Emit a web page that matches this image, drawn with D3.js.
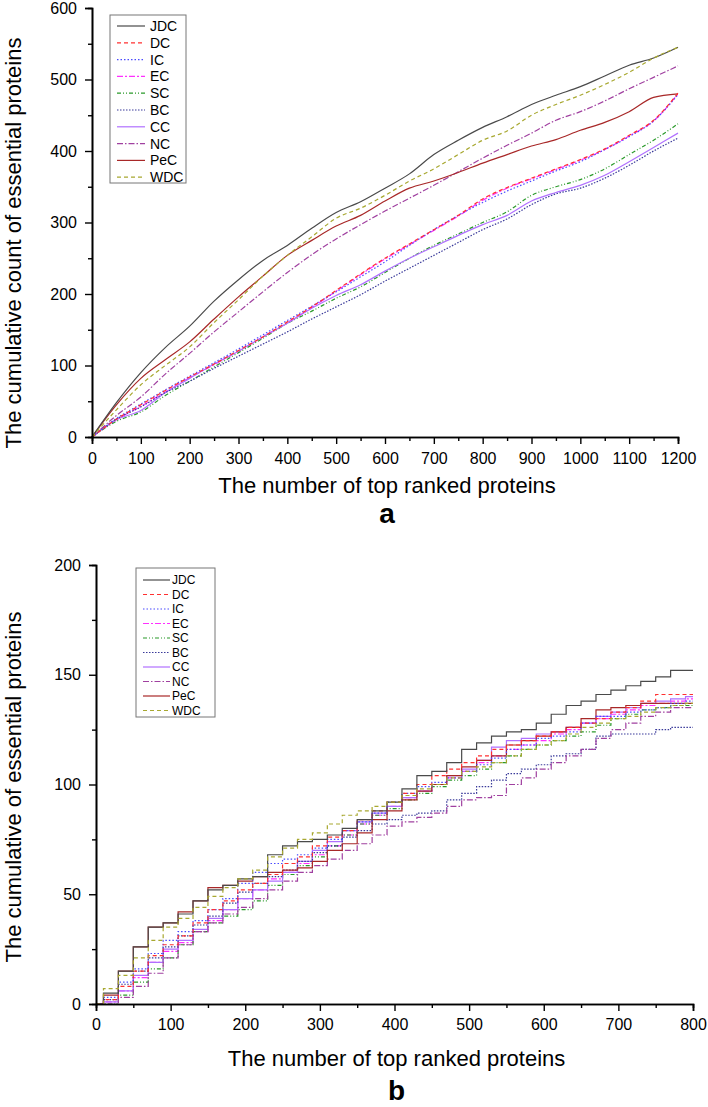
<!DOCTYPE html>
<html><head><meta charset="utf-8">
<script src="https://cdn.jsdelivr.net/npm/d3@7"></script>
<style>
html,body{margin:0;padding:0;background:#fff;}
svg{display:block;font-family:"Liberation Sans",Arial,sans-serif;}
</style></head><body>
<svg id="chart" width="708" height="1107"></svg>
<script>
// ---------- Chart a data ----------
const seriesNames = ["JDC","DC","IC","EC","SC","BC","CC","NC","PeC","WDC"];
const xA = [0,50,100,150,200,250,300,350,400,450,500,550,600,650,700,750,800,850,900,950,1000,1050,1100,1150,1200];
const aJDC = [0,48,90,125,155,190,220,247,268,292,314,329,348,368,395,415,433,448,465,478,490,505,520,530,545];
const aDC  = [0,25,45,65,84,102,121,140,161,182,205,228,250,270,290,310,333,349,362,375,388,403,422,443,481];
const aIC  = [0,26,46,66,85,104,123,143,163,183,203,224,245,268,290,310,328,344,358,372,385,402,420,442,479];
const aEC  = [0,24,43,63,83,101,120,140,160,181,204,227,249,269,289,309,331,348,361,374,387,402,421,442,480];
const aSC  = [0,22,35,58,78,98,118,138,159,176,194,210,230,250,268,284,300,315,338,350,360,375,395,415,438];
const aBC  = [0,25,42,62,78,96,113,130,147,165,182,199,218,236,254,272,290,305,325,340,348,362,380,400,418];
const aCC  = [0,24,37,62,82,102,120,140,159,180,198,213,232,250,266,282,297,310,330,342,352,366,385,405,425];
const aNC  = [0,30,56,88,117,147,175,203,230,255,277,297,316,334,352,371,390,408,425,443,455,470,487,503,519];
const aPeC = [0,45,82,108,133,165,196,225,254,275,295,310,330,348,358,370,383,395,407,416,429,440,455,475,480];
const aWDC = [0,38,73,100,126,160,192,225,254,280,306,320,338,358,375,395,415,428,450,465,478,493,510,530,545];
const yTicksA = [0,100,200,300,400,500,600];
const xTicksA = [0,100,200,300,400,500,600,700,800,900,1000,1100,1200];

// ---------- Chart b data ----------
const xB = [0,20,40,60,80,100,120,140,160,180,200,220,240,260,280,300,320,340,360,380,400,420,440,460,480,500,520,540,560,580,600,620,640,660,680,700,720,740,760,780,800];
const bJDC = [0,5,15,26,35,37,41,47,52,54,57,58,68,72,74,75,77,80,84,88,92,98,104,106,110,116,119,122,124,125,128,132,136,138,141,143,145,147,149,152,152];
const bDC  = [0,2,8,15,22,27,31,37,43,47,52,55,59,64,67,72,76,79,84,88,92,96,100,104,107,110,113,116,118,120,122,124,126,128,130,133,135,138,141,141,141];
const bIC  = [0,3,10,16,23,29,33,38,43,48,55,60,64,66,68,71,75,79,83,87,92,96,99,101,103,106,109,112,116,118,121,122,124,128,131,131,133,134,135,137,138];
const bEC  = [0,1,6,12,19,24,28,33,38,43,48,52,57,60,64,68,72,77,82,86,90,94,97,100,103,106,110,113,116,118,120,123,125,128,130,132,134,136,137,138,139];
const bSC  = [0,0,4,10,16,21,27,33,37,40,43,47,54,59,63,67,72,77,82,86,89,93,96,99,102,104,107,110,113,116,118,120,122,124,127,130,132,134,135,136,136];
const bBC  = [0,2,9,15,21,26,31,36,40,46,51,55,58,61,65,69,72,76,79,82,84,86,87,88,93,96,99,102,105,107,109,113,114,116,122,123,123,123,125,126,126];
const bCC  = [0,1,6,13,19,25,29,34,39,43,48,52,56,60,65,70,74,79,83,87,90,94,97,100,104,107,111,117,120,121,123,124,126,128,131,133,135,137,138,139,140];
const bNC  = [0,0,3,8,14,21,27,33,37,41,44,48,52,56,60,63,66,70,73,77,81,83,85,87,90,93,94,95,100,103,107,110,113,116,121,125,128,131,133,135,135];
const bPeC = [0,4,15,26,35,37,42,47,53,54,56,58,60,61,62,65,70,73,78,84,88,93,97,100,104,108,111,113,118,120,122,124,126,130,134,135,136,137,137,137,137];
const bWDC = [0,7,13,21,29,35,39,44,49,53,57,61,67,71,75,78,82,86,88,90,92,95,98,100,103,106,108,110,113,116,118,120,123,126,128,130,131,133,135,136,137];
const yTicksB = [0,50,100,150,200];
const xTicksB = [0,100,200,300,400,500,600,700,800];

// ---------- styles ----------
const colors = {JDC:"#4a4a4a",DC:"#ff3030",IC:"#4a4aff",EC:"#ff30ff",SC:"#2a9a2a",BC:"#3a3a9a",CC:"#b070ff",NC:"#a040a0",PeC:"#a82828",WDC:"#a8a830"};
const dashes = {JDC:null,DC:"4,3",IC:"1.5,2",EC:"6,2,2,2",SC:"4,2,1,2,1,2",BC:"1.5,1.5",CC:null,NC:"6,2,1.5,2",PeC:null,WDC:"4,3"};
const drawOrder = ["EC","SC","CC","BC","NC","PeC","IC","DC","JDC","WDC"];

const svg = d3.select("#chart");

function drawChart(cfg){
  const g = svg.append("g");
  const x = d3.scaleLinear().domain(cfg.xDomain).range([cfg.left, cfg.right]);
  const y = d3.scaleLinear().domain(cfg.yDomain).range([cfg.bottom, cfg.top]);
  const line = d3.line().x((d,i)=>x(cfg.xs[i])).y(d=>y(d)).curve(cfg.curve);
  drawOrder.forEach(n=>{
    g.append("path").datum(cfg.data[n])
      .attr("d", line).attr("fill","none")
      .attr("stroke", colors[n]).attr("stroke-width", 1.2)
      .attr("stroke-dasharray", dashes[n]);
  });
  // axes
  const xAxis = d3.axisBottom(x).tickValues(cfg.xTicks).tickSize(7).tickPadding(cfg.xPad).tickFormat(d3.format("d"));
  const xMinor = d3.axisBottom(x).tickValues(cfg.xMinor).tickSize(4).tickFormat("");
  const yAxis = d3.axisLeft(y).tickValues(cfg.yTicks).tickSize(7).tickPadding(8).tickFormat(d3.format("d"));
  const yMinor = d3.axisLeft(y).tickValues(cfg.yMinor).tickSize(4).tickFormat("");
  [ [xMinor,"x"],[xAxis,"x"],[yMinor,"y"],[yAxis,"y"] ].forEach(([ax,t])=>{
    const a = g.append("g").attr("transform", t==="x" ? `translate(0,${cfg.bottom})` : `translate(${cfg.left},0)`).call(ax);
    a.select(".domain").attr("stroke","#000").attr("stroke-width",1.6);
    a.selectAll(".tick line").attr("stroke","#000").attr("stroke-width",1.4);
    a.selectAll("text").attr("font-size", cfg.tickFont).attr("fill","#000")
      .attr("font-family","'Liberation Sans',Arial,sans-serif");
  });
  // titles
  g.append("text").attr("x", (cfg.left+cfg.right)/2 + 2).attr("y", cfg.xTitleY)
    .attr("text-anchor","middle").attr("font-size", 22).text("The number of top ranked proteins");
  g.append("text").attr("transform", `translate(21,${cfg.yTitleCY}) rotate(-90)`)
    .attr("text-anchor","middle").attr("font-size", 22).text(cfg.yTitle);
  g.append("text").attr("x", (cfg.left+cfg.right)/2 + 2).attr("y", cfg.letterY)
    .attr("text-anchor","middle").attr("font-size", 28).attr("font-weight","bold").text(cfg.letter);
  // legend
  const L = cfg.legend;
  const lg = g.append("g");
  lg.append("rect").attr("x",L.x).attr("y",L.y).attr("width",L.w).attr("height",L.h)
    .attr("fill","#fff").attr("stroke","#777").attr("stroke-width",1);
  seriesNames.forEach((n,i)=>{
    const yy = L.y + L.first + i*L.step;
    lg.append("line").attr("x1",L.x+L.l1).attr("x2",L.x+L.l2).attr("y1",yy).attr("y2",yy)
      .attr("stroke",colors[n]).attr("stroke-width",1.2).attr("stroke-dasharray",dashes[n]);
    lg.append("text").attr("x",L.x+L.tx).attr("y",yy).attr("dy","0.35em")
      .attr("font-size",L.font).text(n);
  });
}

drawChart({
  xs:xA, data:{JDC:aJDC,DC:aDC,IC:aIC,EC:aEC,SC:aSC,BC:aBC,CC:aCC,NC:aNC,PeC:aPeC,WDC:aWDC},
  xDomain:[0,1200], yDomain:[0,600], left:92, right:678, top:8, bottom:437,
  curve:d3.curveMonotoneX,
  xTicks:xTicksA, xMinor:[50,150,250,350,450,550,650,750,850,950,1050,1150],
  yTicks:yTicksA, yMinor:[50,150,250,350,450,550],
  tickFont:16, xPad:9, xTitleY:493, yTitleCY:243, yTitle:"The cumulative count of essential proteins",
  letter:"a", letterY:523,
  legend:{x:110,y:15,w:76,h:168,first:11,step:16.8,l1:7,l2:35,tx:40,font:14}
});

drawChart({
  xs:xB, data:{JDC:bJDC,DC:bDC,IC:bIC,EC:bEC,SC:bSC,BC:bBC,CC:bCC,NC:bNC,PeC:bPeC,WDC:bWDC},
  xDomain:[0,800], yDomain:[0,200], left:96, right:693, top:565, bottom:1004,
  curve:d3.curveStep,
  xTicks:xTicksB, xMinor:[50,150,250,350,450,550,650,750],
  yTicks:yTicksB, yMinor:[25,75,125,175],
  tickFont:16, xPad:8, xTitleY:1066, yTitleCY:787, yTitle:"The cumulative of essential proteins",
  letter:"b", letterY:1100,
  legend:{x:136,y:568,w:79,h:149,first:12,step:14.5,l1:7,l2:34,tx:36,font:12}
});
</script>
</body></html>
